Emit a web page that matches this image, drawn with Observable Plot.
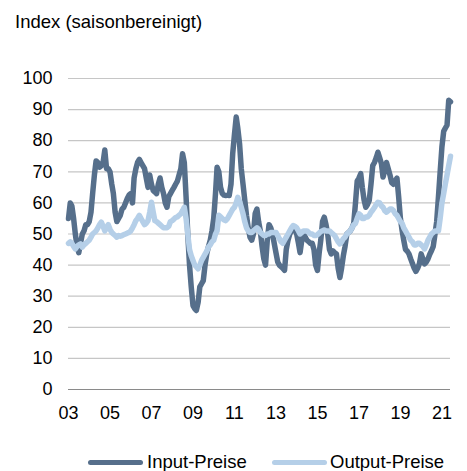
<!DOCTYPE html>
<html>
<head>
<meta charset="utf-8">
<script src="https://cdn.jsdelivr.net/npm/d3@7"></script>
<script src="https://cdn.jsdelivr.net/npm/@observablehq/plot@0.6"></script>
<style>
  html, body { margin: 0; padding: 0; background: #fff; }
  #wrap { position: relative; width: 467px; height: 471px; overflow: hidden;
          font-family: "Liberation Sans", Arial, sans-serif; color: #000; }
  #title { height: 44px; box-sizing: border-box; padding: 13px 0 0 15px;
           font-size: 18.5px; line-height: 18px; white-space: nowrap; }
  #chart svg { display: block; }
  .leg-line { position: absolute; height: 5px; border-radius: 3px; }
  .leg-text { position: absolute; font-size: 18.5px; line-height: 18px; white-space: nowrap; }
</style>
</head>
<body>
<div id="wrap">
  <div id="title"></div>
  <div id="chart"></div>
  <div id="legend"></div>
</div>
<script>
// ---- data (monthly, Jan 2003 - Jun 2021) ----
const titleText = "Index (saisonbereinigt)";
const seriesNames = ["Input-Preise", "Output-Preise"];
const seriesColors = ["#566f8b", "#b5cfe8"];
const startYear = 2003;

const inputPreise = [
  55, 60, 59, 55, 50, 46, 44, 47, 50, 51, 53, 53,
  54, 57, 63, 69, 73.5, 73, 71.5, 72, 73, 77, 71, 71,
  70, 66, 63, 57, 54, 55, 56, 58, 58.6, 60, 61.4, 62.5,
  63, 60, 68, 71, 73, 74, 73, 72, 71, 68, 65, 69,
  66, 64, 63.5, 63, 66, 68, 65, 63, 60, 58.6, 62, 63,
  64, 65, 66, 67, 69, 71, 75.8, 73, 62, 50, 40, 33,
  27, 26, 25.4, 28, 33, 34, 35, 40, 43.7, 46, 48, 51,
  55, 63, 71.5, 70, 65, 63, 62.5, 62.4, 62.5, 62.4, 66, 75.8,
  82, 87.6, 84, 79, 71, 66, 61, 56, 52, 49, 48, 50,
  56.6, 58, 54, 51, 46, 42, 40, 48, 53, 52, 50, 47,
  44, 41, 40, 39.5, 39, 38.3, 45, 48, 50, 51, 52, 51.5,
  50, 47, 44, 48, 50, 49, 48, 47.5, 47, 47, 45, 40,
  38.3, 44, 48, 54, 55.4, 53, 50, 45, 43.6, 44.6, 44, 43.6,
  39, 36, 39, 43, 46, 50, 50.5, 51, 52, 53.4, 60, 67,
  68, 69.4, 65, 61, 58.6, 59.5, 60.8, 66, 72, 73, 74.5, 76.3,
  74.5, 72.6, 68.3, 70.5, 73, 71, 69, 66.5, 66, 67, 68, 62,
  55, 51, 48, 45, 44.5, 43.6, 42, 40.5, 39, 38, 39, 40.4,
  43.6, 42, 40.4, 41, 42, 43.5, 44.6, 46, 50, 54, 62, 70,
  78, 83, 84, 85, 93, 92.5
];

const outputPreise = [
  47, 47.5, 47, 46, 45.2, 46, 46.5, 46.8, 45.8, 46.5, 47, 47.5,
  48, 49, 50, 50.5, 51, 52, 53, 53.8, 52.5, 51, 52, 53,
  51.5, 50.5, 50, 49.5, 49, 49.5, 49.3, 49.5, 49.8, 50, 50.3, 50.5,
  51, 52, 53, 54.3, 55, 56, 55, 54, 53, 53.5, 54.3, 57,
  60.2, 57, 54.3, 54, 53.5, 53, 52.5, 52, 52, 52, 52.5, 54,
  54.3, 54.8, 55.3, 55.5, 56, 56.5, 57.5, 58.6, 55, 50, 45, 43,
  41.5, 40, 39.5, 38.8, 40, 41.5, 42.5, 43.5, 44.5, 45.8, 46.5, 47.5,
  48, 50, 51, 56, 55.5, 55, 54.5, 54.3, 55, 56, 57, 58,
  58.6, 60, 61.8, 60.5, 58.6, 56.5, 54, 52, 51, 50.5, 50.5, 51,
  51.5, 52, 51.5, 50.5, 50, 49.5, 49.5, 50, 50, 50.5, 50.5, 50.5,
  50.5, 49.5, 48.5, 47.5, 47, 48, 49, 50, 51, 52, 52.7, 52.5,
  52, 51, 50, 50.5, 51, 51, 51, 50.5, 50, 50, 49.5, 49.5,
  49.8, 50.3, 50.8, 51, 51.3, 51, 51, 51, 50.5, 50, 49.5, 48.5,
  47.5, 46.8, 47.5, 48.5, 49, 50, 50.5, 51, 52, 53, 53.4, 55,
  56.5, 56, 55, 55, 55.5, 55.5, 56, 57, 57.7, 58.5, 59.5, 60.2,
  60, 59, 58.6, 57.5, 57, 57.5, 58, 58, 57.5, 56.5, 56, 55,
  54, 53.4, 52, 51, 50, 49, 48, 47.5, 46.5, 46.5, 47, 47,
  46.5, 46, 45.2, 46.5, 48, 49, 50, 50.5, 51, 51, 51, 55,
  60, 63, 66, 69, 72, 75
];

const yTicks = [0, 10, 20, 30, 40, 50, 60, 70, 80, 90, 100];
const xTickYears = [2003, 2005, 2007, 2009, 2011, 2013, 2015, 2017, 2019, 2021];
const xTickLabels = ["03", "05", "07", "09", "11", "13", "15", "17", "19", "21"];

// ---- build table ----
const dates = inputPreise.map((_, i) => new Date(Date.UTC(startYear, i, 1)));
const rows = dates.map((d, i) => ({date: d, input: inputPreise[i], output: outputPreise[i]}));
const xTickDates = xTickYears.map(y => new Date(Date.UTC(y, 0, 1)));

document.getElementById("title").textContent = titleText;

const chart = Plot.plot({
  width: 467,
  height: 396,
  marginTop: 34,
  marginBottom: 51,
  marginLeft: 68,
  marginRight: 17,
  style: {fontFamily: '"Liberation Sans", Arial, sans-serif', fontSize: "18px", color: "#000", background: "#fff"},
  x: {type: "utc", domain: [dates[0], dates[dates.length - 1]]},
  y: {domain: [0, 100]},
  marks: [
    Plot.ruleY(yTicks.filter(v => v > 0), {stroke: "#c6c6c6", strokeWidth: 1.2}),
    Plot.ruleY([0], {stroke: "#8a8a8a", strokeWidth: 1.2}),
    Plot.axisY(yTicks, {tickSize: 0, tickPadding: 16, fontSize: 18, label: null}),
    Plot.axisX(xTickDates, {tickSize: 0, tickPadding: 17, fontSize: 18, label: null,
      tickFormat: d => xTickLabels[xTickDates.findIndex(t => +t === +d)]}),
    Plot.line(rows, {x: "date", y: "input", stroke: seriesColors[0], strokeWidth: 5.5,
      strokeLinejoin: "round", strokeLinecap: "round"}),
    Plot.line(rows, {x: "date", y: "output", stroke: seriesColors[1], strokeWidth: 5.5,
      strokeLinejoin: "round", strokeLinecap: "round"})
  ]
});
document.getElementById("chart").appendChild(chart);

// ---- legend ----
const legend = document.getElementById("legend");
const legPos = [{line: 88, text: 147}, {line: 272, text: 330}];
seriesNames.forEach((name, i) => {
  const ln = document.createElement("div");
  ln.className = "leg-line";
  ln.style.left = legPos[i].line + "px";
  ln.style.top = "460px";
  ln.style.width = "55px";
  ln.style.background = seriesColors[i];
  legend.appendChild(ln);
  const tx = document.createElement("div");
  tx.className = "leg-text";
  tx.style.left = legPos[i].text + "px";
  tx.style.top = "453px";
  tx.textContent = name;
  legend.appendChild(tx);
});
</script>
</body>
</html>
